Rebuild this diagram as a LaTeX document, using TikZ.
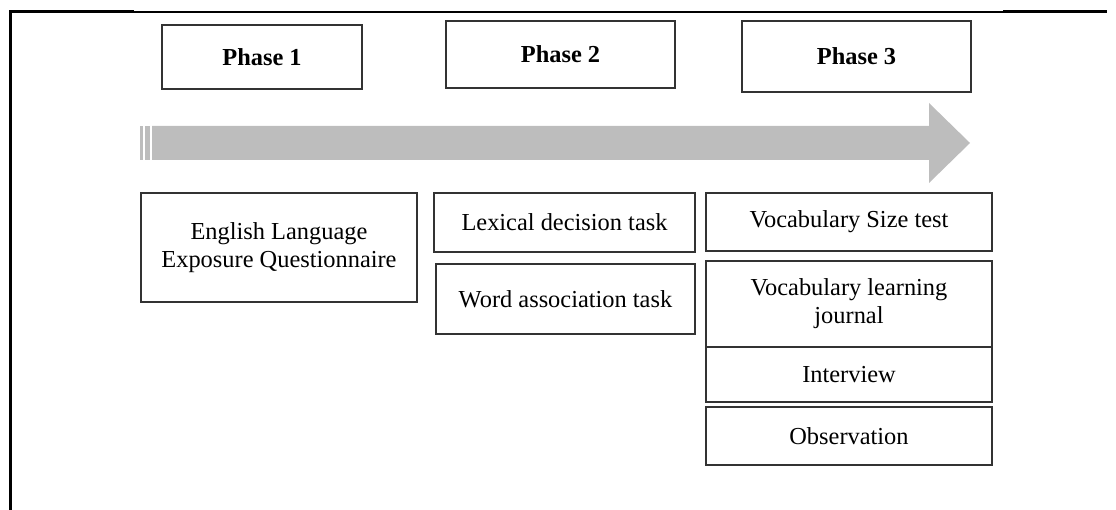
\documentclass[tikz,border=0pt]{standalone}
\usepackage{fontspec}
\setmainfont{Liberation Serif}
\begin{document}
\begin{tikzpicture}[x=1pt,y=-1pt,
  pbox/.style={draw=black!80, line width=1.5pt, inner sep=0pt, align=center,
    font=\fontsize{24.4}{28}\selectfont},
  phasebox/.style={pbox, font=\fontsize{24.4}{28}\selectfont\bfseries},
  arrowfill/.style={fill=black!26, draw=none}]
\useasboundingbox (0,0) rectangle (1116,510);
% frame lines
\draw[line width=3pt] (10,510) -- (10,12) -- (134,12);
\draw[line width=1.5pt] (134,12) -- (1003,12);
\draw[line width=3pt] (1003,12) -- (1107,12);
% timeline arrow
\fill[arrowfill] (140,126) rectangle (143,160);
\fill[arrowfill] (145,126) rectangle (150,160);
\fill[arrowfill] (152,126) -- (929,126) -- (929,103) -- (970,143) -- (929,183) -- (929,160) -- (152,160) -- cycle;
% phase boxes
\node[phasebox, minimum width=200pt, minimum height=64pt] (p1) at (262,57) {Phase 1};
\node[phasebox, minimum width=229pt, minimum height=67pt] (p2) at (560.5,54.5) {Phase 2};
\node[phasebox, minimum width=229pt, minimum height=71pt] (p3) at (856.5,56.5) {Phase 3};
% phase 1 tools
\node[pbox, minimum width=276pt, minimum height=109pt] (elq) at (279,247.5) {English Language\\Exposure Questionnaire};
% phase 2 tools
\node[pbox, minimum width=261pt, minimum height=59pt] (ldt) at (564.5,222.5) {Lexical decision task};
\node[pbox, minimum width=259pt, minimum height=70pt] (wat) at (565.5,299) {Word association task};
% phase 3 tools
\node[pbox, minimum width=286pt, minimum height=58pt] (vst) at (849,222) {Vocabulary Size test};
\node[pbox, minimum width=286pt, minimum height=86pt] (vlj) at (849,304) {Vocabulary learning\\journal};
\node[pbox, minimum width=286pt, minimum height=55pt] (int) at (849,374.5) {Interview};
\node[pbox, minimum width=286pt, minimum height=58pt] (obs) at (849,436) {Observation};
\end{tikzpicture}
\end{document}
